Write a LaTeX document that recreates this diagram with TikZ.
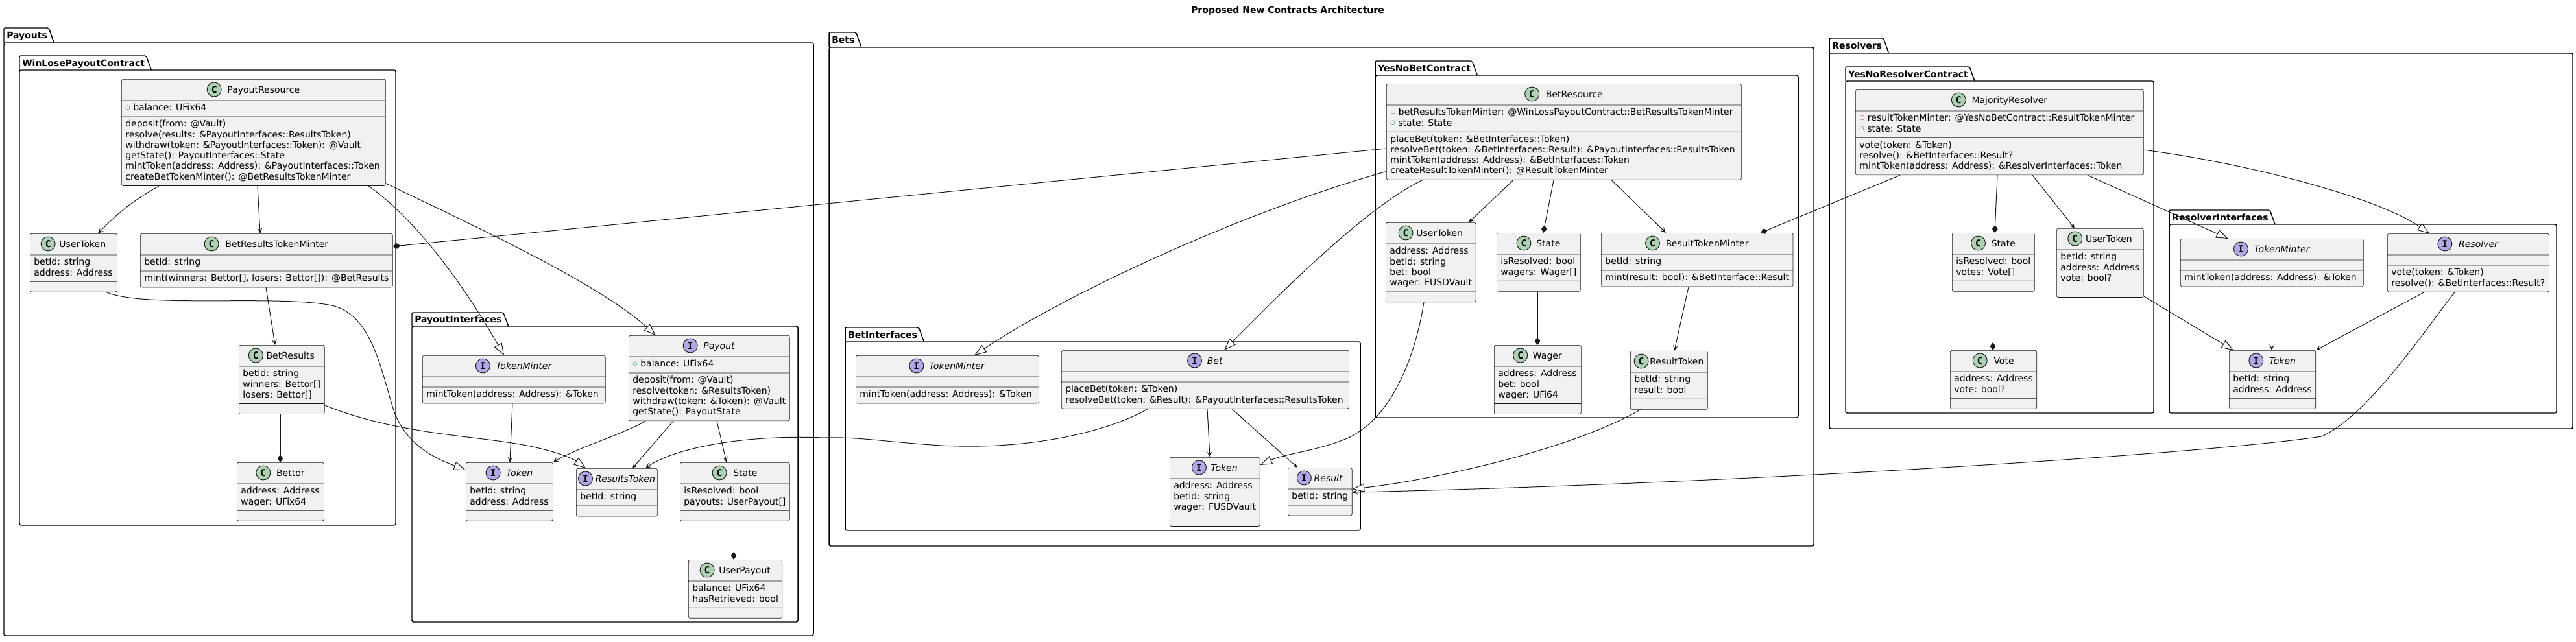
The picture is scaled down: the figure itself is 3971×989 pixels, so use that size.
\documentclass[tikz,border=0pt]{standalone}
\usepackage{fontspec}
\setmainfont{DejaVu Sans}
\newfontfamily\monoicon{DejaVu Sans Mono}
\usepackage{graphicx}
\usetikzlibrary{shapes.multipart,arrows.meta,calc}
\definecolor{boxfill}{HTML}{F1F1F1}
\definecolor{linec}{HTML}{181818}
\definecolor{iconCfill}{HTML}{ADD1B2}
\definecolor{iconIfill}{HTML}{B4A7E5}
\definecolor{pubc}{HTML}{038048}
\definecolor{privc}{HTML}{C82930}
\newcommand\umlfont{\fontsize{10.5pt}{12.225pt}\selectfont}
\newcommand\hdrs{\rule{0pt}{18pt}\hspace*{1pt}}
\newcommand\Ln{\\\strut}
\newcommand\pub{\textcolor{pubc}{\raisebox{1.6pt}{\scalebox{0.6}{○}}}\hspace{3.5pt}}
\newcommand\priv{\textcolor{privc}{\raisebox{1.6pt}{\scalebox{0.6}{□}}}\hspace{3.5pt}}
\tikzset{
  umlbox/.style={rectangle split, rectangle split parts=3, draw=linec, fill=boxfill,
    line width=0.5pt, rounded corners=1.9pt, inner xsep=4.5pt, inner ysep=3pt,
    font=\umlfont, align=left, rectangle split part align={center,left,left},
    rectangle split empty part height=0pt, rectangle split empty part depth=0pt,
    rectangle split empty part width=0pt, anchor=north west},
  w/.style={minimum width=#1*0.75pt},
  ttl/.style={font=\umlfont, inner sep=0pt, text height=7.5pt, text depth=0pt},
  iconbase/.style={circle, draw=linec, line width=0.7pt, minimum size=16.5pt, inner sep=0pt,
    font=\monoicon\bfseries\fontsize{11pt}{11pt}\selectfont},
  iconC/.style={iconbase, fill=iconCfill},
  iconI/.style={iconbase, fill=iconIfill},
  pkgline/.style={draw=black, line width=1.1pt},
  pkglabel/.style={font=\umlfont\bfseries, inner sep=0pt, text height=7.5pt, text depth=0pt},
  conn/.style={draw=linec, line width=0.75pt},
  arr/.style={conn, -{Stealth[length=6.75pt,width=6pt,inset=3.6pt]}},
  ext/.style={conn, -{Triangle[open,fill=white,length=14pt,width=10pt]}},
  comp/.style={conn, -{Diamond[length=9pt,width=6.5pt]}}
}
\newcommand\umlhead[4]{%
  \path ([yshift=-12pt]#1.north) ++({(22+#4)/2},0) node[ttl] (#1-t) {#3};
  \path (#1-t.west) ++({-(11+#4)},0) node[icon#2] {#2};}
\newcommand\pkg[7]{%
  \draw[pkgline, rounded corners=2pt] (#2,#4) rectangle (#5,#6);
  \node[pkglabel, anchor=west] (#1-l) at ({#2+4},{(#3+#4)/2}) {#7};
  \draw[pkgline, rounded corners=1.5pt] (#2,#4) -- (#2,#3) -- ($(#1-l.east |- 0,#3)+(2,0)$) -- ($(#1-l.east |- 0,#4)+(10,0)$);}
\begin{document}
\begin{tikzpicture}[x=0.75pt,y=-0.75pt]
\useasboundingbox (0,0) rectangle (3971,989);
\fill[white] (0,0) rectangle (3971,989);
\node[font=\umlfont\bfseries, inner sep=0pt] (title) at (1985,17) {Proposed New Contracts Architecture};

% packages
\pkg{payouts}{6}{43}{66}{1254}{980}{Payouts}
\pkg{winlose}{30}{86}{108}{610}{810}{WinLosePayoutContract}
\pkg{payint}{635}{482}{503}{1230}{959}{PayoutInterfaces}
\pkg{bets}{1278}{50}{73}{2796}{842}{Bets}
\pkg{yesnobet}{2120}{94}{116}{2772}{644}{YesNoBetContract}
\pkg{betint}{1303}{505}{527}{2097}{818}{BetInterfaces}
\pkg{resolvers}{2820}{59}{82}{3966}{661}{Resolvers}
\pkg{yesnores}{2845}{103}{125}{3320}{637}{YesNoResolverContract}
\pkg{resint}{3344}{324}{346}{3941}{637}{ResolverInterfaces}

% ---------- Payouts ----------
\node[umlbox, w=407] (pr) at (187,122) {\hdrs\nodepart{two}\strut\pub balance: UFix64\nodepart{three}\strut deposit(from: @Vault)\Ln resolve(results: \&PayoutInterfaces::ResultsToken)\Ln withdraw(token: \&PayoutInterfaces::Token): @Vault\Ln getState(): PayoutInterfaces::State\Ln mintToken(address: Address): \&PayoutInterfaces::Token\Ln createBetTokenMinter(): @BetResultsTokenMinter};
\umlhead{pr}{C}{PayoutResource}{9}
\node[umlbox, w=134] (put) at (46,360) {\hdrs\nodepart{two}\strut betId: string\Ln address: Address};
\umlhead{put}{C}{UserToken}{6}
\node[umlbox, w=378] (brtm) at (216,360) {\hdrs\nodepart{two}\strut betId: string\nodepart{three}\strut mint(winners: Bettor[], losers: Bettor[]): @BetResults};
\umlhead{brtm}{C}{BetResultsTokenMinter}{10}
\node[umlbox, w=128] (br) at (368,532) {\hdrs\nodepart{two}\strut betId: string\Ln winners: Bettor[]\Ln losers: Bettor[]};
\umlhead{br}{C}{BetResults}{5}
\node[umlbox, w=134] (bettor) at (365,713) {\hdrs\nodepart{two}\strut address: Address\Ln wager: UFix64};
\umlhead{bettor}{C}{Bettor}{9}
\node[umlbox, w=282] (ptm) at (651,548) {\hdrs\nodepart{two}\nodepart{three}\strut mintToken(address: Address): \&Token};
\umlhead{ptm}{I}{\textit{TokenMinter}}{9}
\node[umlbox, w=245] (pay) at (969,517) {\hdrs\nodepart{two}\strut\pub balance: UFix64\nodepart{three}\strut deposit(from: @Vault)\Ln resolve(token: \&ResultsToken)\Ln withdraw(token: \&Token): @Vault\Ln getState(): PayoutState};
\umlhead{pay}{I}{\textit{Payout}}{9}
\node[umlbox, w=134] (ptok) at (718,713) {\hdrs\nodepart{two}\strut betId: string\Ln address: Address};
\umlhead{ptok}{I}{\textit{Token}}{9}
\node[umlbox, w=125] (prt) at (888,722) {\hdrs\nodepart{two}\strut betId: string};
\umlhead{prt}{I}{\textit{ResultsToken}}{4}
\node[umlbox, w=166] (pst) at (1048,713) {\hdrs\nodepart{two}\strut isResolved: bool\Ln payouts: UserPayout[]};
\umlhead{pst}{C}{State}{10}
\node[umlbox, w=141] (upay) at (1061,863) {\hdrs\nodepart{two}\strut balance: UFix64\Ln hasRetrieved: bool};
\umlhead{upay}{C}{UserPayout}{7}

% ---------- Bets ----------
\node[umlbox, w=547] (bres) at (2137,129) {\hdrs\nodepart{two}\strut\priv betResultsTokenMinter: @WinLossPayoutContract::BetResultsTokenMinter\Ln\pub state: State\nodepart{three}\strut placeBet(token: \&BetInterfaces::Token)\Ln resolveBet(token: \&BetInterfaces::Result): \&PayoutInterfaces::ResultsToken\Ln mintToken(address: Address): \&BetInterfaces::Token\Ln createResultTokenMinter(): @ResultTokenMinter};
\umlhead{bres}{C}{BetResource}{10}
\node[umlbox, w=135] (but) at (2136,343) {\hdrs\nodepart{two}\strut address: Address\Ln betId: string\Ln bet: bool\Ln wager: FUSDVault};
\umlhead{but}{C}{UserToken}{5}
\node[umlbox, w=126] (bst) at (2307,359) {\hdrs\nodepart{two}\strut isResolved: bool\Ln wagers: Wager[]};
\umlhead{bst}{C}{State}{8}
\node[umlbox, w=288] (rtm) at (2468,359) {\hdrs\nodepart{two}\strut betId: string\nodepart{three}\strut mint(result: bool): \&BetInterface::Result};
\umlhead{rtm}{C}{ResultTokenMinter}{9}
\node[umlbox, w=134] (wager) at (2303,532) {\hdrs\nodepart{two}\strut address: Address\Ln bet: bool\Ln wager: UFi64};
\umlhead{wager}{C}{Wager}{8}
\node[umlbox, w=119] (rtok) at (2513,541) {\hdrs\nodepart{two}\strut betId: string\Ln result: bool};
\umlhead{rtok}{C}{ResultToken}{2}
\node[umlbox, w=282] (btm) at (1319,548) {\hdrs\nodepart{two}\nodepart{three}\strut mintToken(address: Address): \&Token};
\umlhead{btm}{I}{\textit{TokenMinter}}{8}
\node[umlbox, w=443] (bet) at (1636,540) {\hdrs\nodepart{two}\nodepart{three}\strut placeBet(token: \&Token)\Ln resolveBet(token: \&Result): \&PayoutInterfaces::ResultsToken};
\umlhead{bet}{I}{\textit{Bet}}{8}
\node[umlbox, w=134] (btok) at (1803,705) {\hdrs\nodepart{two}\strut address: Address\Ln betId: string\Ln wager: FUSDVault};
\umlhead{btok}{I}{\textit{Token}}{7}
\node[umlbox, w=94] (bresult) at (1985,721) {\hdrs\nodepart{two}\strut betId: string};
\umlhead{bresult}{I}{\textit{Result}}{4}

% ---------- Resolvers ----------
\node[umlbox, w=444] (maj) at (2860,138) {\hdrs\nodepart{two}\strut\priv resultTokenMinter: @YesNoBetContract::ResultTokenMinter\Ln\pub state: State\nodepart{three}\strut vote(token: \&Token)\Ln resolve(): \&BetInterfaces::Result?\Ln mintToken(address: Address): \&ResolverInterfaces::Token};
\umlhead{maj}{C}{MajorityResolver}{9}
\node[umlbox, w=126] (rst) at (3009,359) {\hdrs\nodepart{two}\strut isResolved: bool\Ln votes: Vote[]};
\umlhead{rst}{C}{State}{9}
\node[umlbox, w=134] (rut) at (3170,352) {\hdrs\nodepart{two}\strut betId: string\Ln address: Address\Ln vote: bool?};
\umlhead{rut}{C}{UserToken}{5}
\node[umlbox, w=133] (vote) at (3006,540) {\hdrs\nodepart{two}\strut address: Address\Ln vote: bool?};
\umlhead{vote}{C}{Vote}{10}
\node[umlbox, w=282] (rtm2) at (3361,368) {\hdrs\nodepart{two}\nodepart{three}\strut mintToken(address: Address): \&Token};
\umlhead{rtm2}{I}{\textit{TokenMinter}}{9}
\node[umlbox, w=245] (resolver) at (3680,360) {\hdrs\nodepart{two}\nodepart{three}\strut vote(token: \&Token)\Ln resolve(): \&BetInterfaces::Result?};
\umlhead{resolver}{I}{\textit{Resolver}}{10}
\node[umlbox, w=133] (rtok2) at (3436,540) {\hdrs\nodepart{two}\strut betId: string\Ln address: Address};
\umlhead{rtok2}{I}{\textit{Token}}{9}

% ---------- connectors: Payouts ----------
\draw[arr] ($(pr.south west)+(58,0)$) to[bend right=8] ($(put.north west)+(105,0)$);
\draw[arr] ($(pr.south west)+(210,0)$) -- ($(brtm.north west)+(185,0)$);
\draw[ext] ($(pr.south west)+(381,0)$) .. controls (648,343) and (722,452) .. ($(ptm.north west)+(126,0)$);
\draw[ext] ($(pr.south east)+(0,-4)$) .. controls (737,351) and (922,437) .. ($(pay.north west)+(42,0)$);
\draw[ext] ($(put.south west)+(118,0)$) .. controls (220,475) and (420,455) .. (506,470) .. controls (570,480) and (585,560) .. (606,630) .. controls (625,690) and (680,710) .. ($(ptok.north west)+(0,12)$);
\draw[ext] ($(br.south east)+(0,-14)$) .. controls (600,665) and (700,670) .. (782,682) .. controls (840,690) and (880,705) .. ($(prt.north west)+(15,0)$);
\draw[arr] ($(pay.south west)+(26,0)$) .. controls (960,670) and (890,690) .. (ptok.north east);
\draw[arr] ($(pay.south west)+(69,0)$) -- ($(prt.north west)+(87,0)$);
\draw[arr] ($(pay.south west)+(136,0)$) -- ($(pst.north west)+(72,0)$);
\draw[arr] ($(ptm.south west)+(139,0)$) -- ($(ptok.north west)+(68,0)$);
\draw[comp] ($(pst.south west)+(83,0)$) -- ($(upay.north west)+(70,0)$);
\draw[comp] ($(br.south west)+(64,0)$) -- ($(bettor.north west)+(67,0)$);
\draw[arr] ($(brtm.south west)+(194,0)$) -- ($(br.north west)+(56,0)$);

% ---------- connectors: Bets ----------
\draw[comp] ($(bres.north west)+(0,100)$) -- ($(brtm.north east)+(0,20)$);
\draw[arr] ($(bet.south west)+(133,0)$) .. controls (1720,660) and (1600,695) .. (1452,687) .. controls (1380,683) and (1320,673) .. (1270,675) .. controls (1150,670) and (1040,690) .. ($(prt.north west)+(107,0)$);
\draw[arr] ($(bet.south west)+(225,0)$) -- ($(btok.north west)+(62,0)$);
\draw[arr] ($(bet.south west)+(263,0)$) -- ($(bresult.north west)+(15,0)$);
\draw[ext] ($(but.south west)+(59,0)$) .. controls (2180,560) and (2140,650) .. (2074,677) .. controls (2030,695) and (1980,700) .. ($(btok.north east)+(0,12)$);
\draw[ext] ($(bres.south west)+(0,-13)$) .. controls (1897,332) and (1626,464) .. ($(btm.north west)+(183,0)$);
\draw[ext] ($(bres.south west)+(56,0)$) .. controls (2104,320) and (1964,462) .. ($(bet.north west)+(251,0)$);
\draw[arr] ($(bres.south west)+(196,0)$) -- ($(but.north west)+(128,0)$);
\draw[comp] ($(bres.south west)+(258,0)$) -- ($(bst.north west)+(72,0)$);
\draw[arr] ($(bres.south west)+(347,0)$) -- ($(rtm.north west)+(100,0)$);
\draw[comp] ($(bst.south west)+(63,0)$) -- ($(wager.north west)+(67,0)$);
\draw[arr] ($(rtm.south west)+(135,0)$) -- ($(rtok.north west)+(68,0)$);
\draw[ext] ($(rtok.south west)+(16,0)$) .. controls (2421,694) and (2209,740) .. ($(bresult.east)+(0,-4)$);
\draw[arr] ($(resolver.south west)+(104,0)$) .. controls (3730,520) and (3650,640) .. (3579,673) .. controls (3400,700) and (2700,745) .. ($(bresult.east)+(0,1)$);

% ---------- connectors: Resolvers ----------
\draw[comp] ($(maj.south west)+(69,0)$) -- ($(rtm.north west)+(246,0)$);
\draw[comp] ($(maj.south west)+(219,0)$) -- ($(rst.north west)+(66,0)$);
\draw[arr] ($(maj.south west)+(273,0)$) -- ($(rut.north west)+(28,0)$);
\draw[ext] ($(maj.south west)+(358,0)$) -- ($(rtm2.north west)+(74,0)$);
\draw[ext] ($(maj.south east)+(0,-39)$) .. controls (3454,250) and (3663,303) .. ($(resolver.north west)+(65,0)$);
\draw[comp] ($(rst.south west)+(63,0)$) -- ($(vote.north west)+(66,0)$);
\draw[ext] ($(rut.south east)+(0,-2)$) -- ($(rtok2.north west)+(7,0)$);
\draw[arr] ($(rtm2.south west)+(141,0)$) -- ($(rtok2.north west)+(66,0)$);
\draw[arr] ($(resolver.south west)+(57,0)$) -- (rtok2.north east);
\end{tikzpicture}
\end{document}
